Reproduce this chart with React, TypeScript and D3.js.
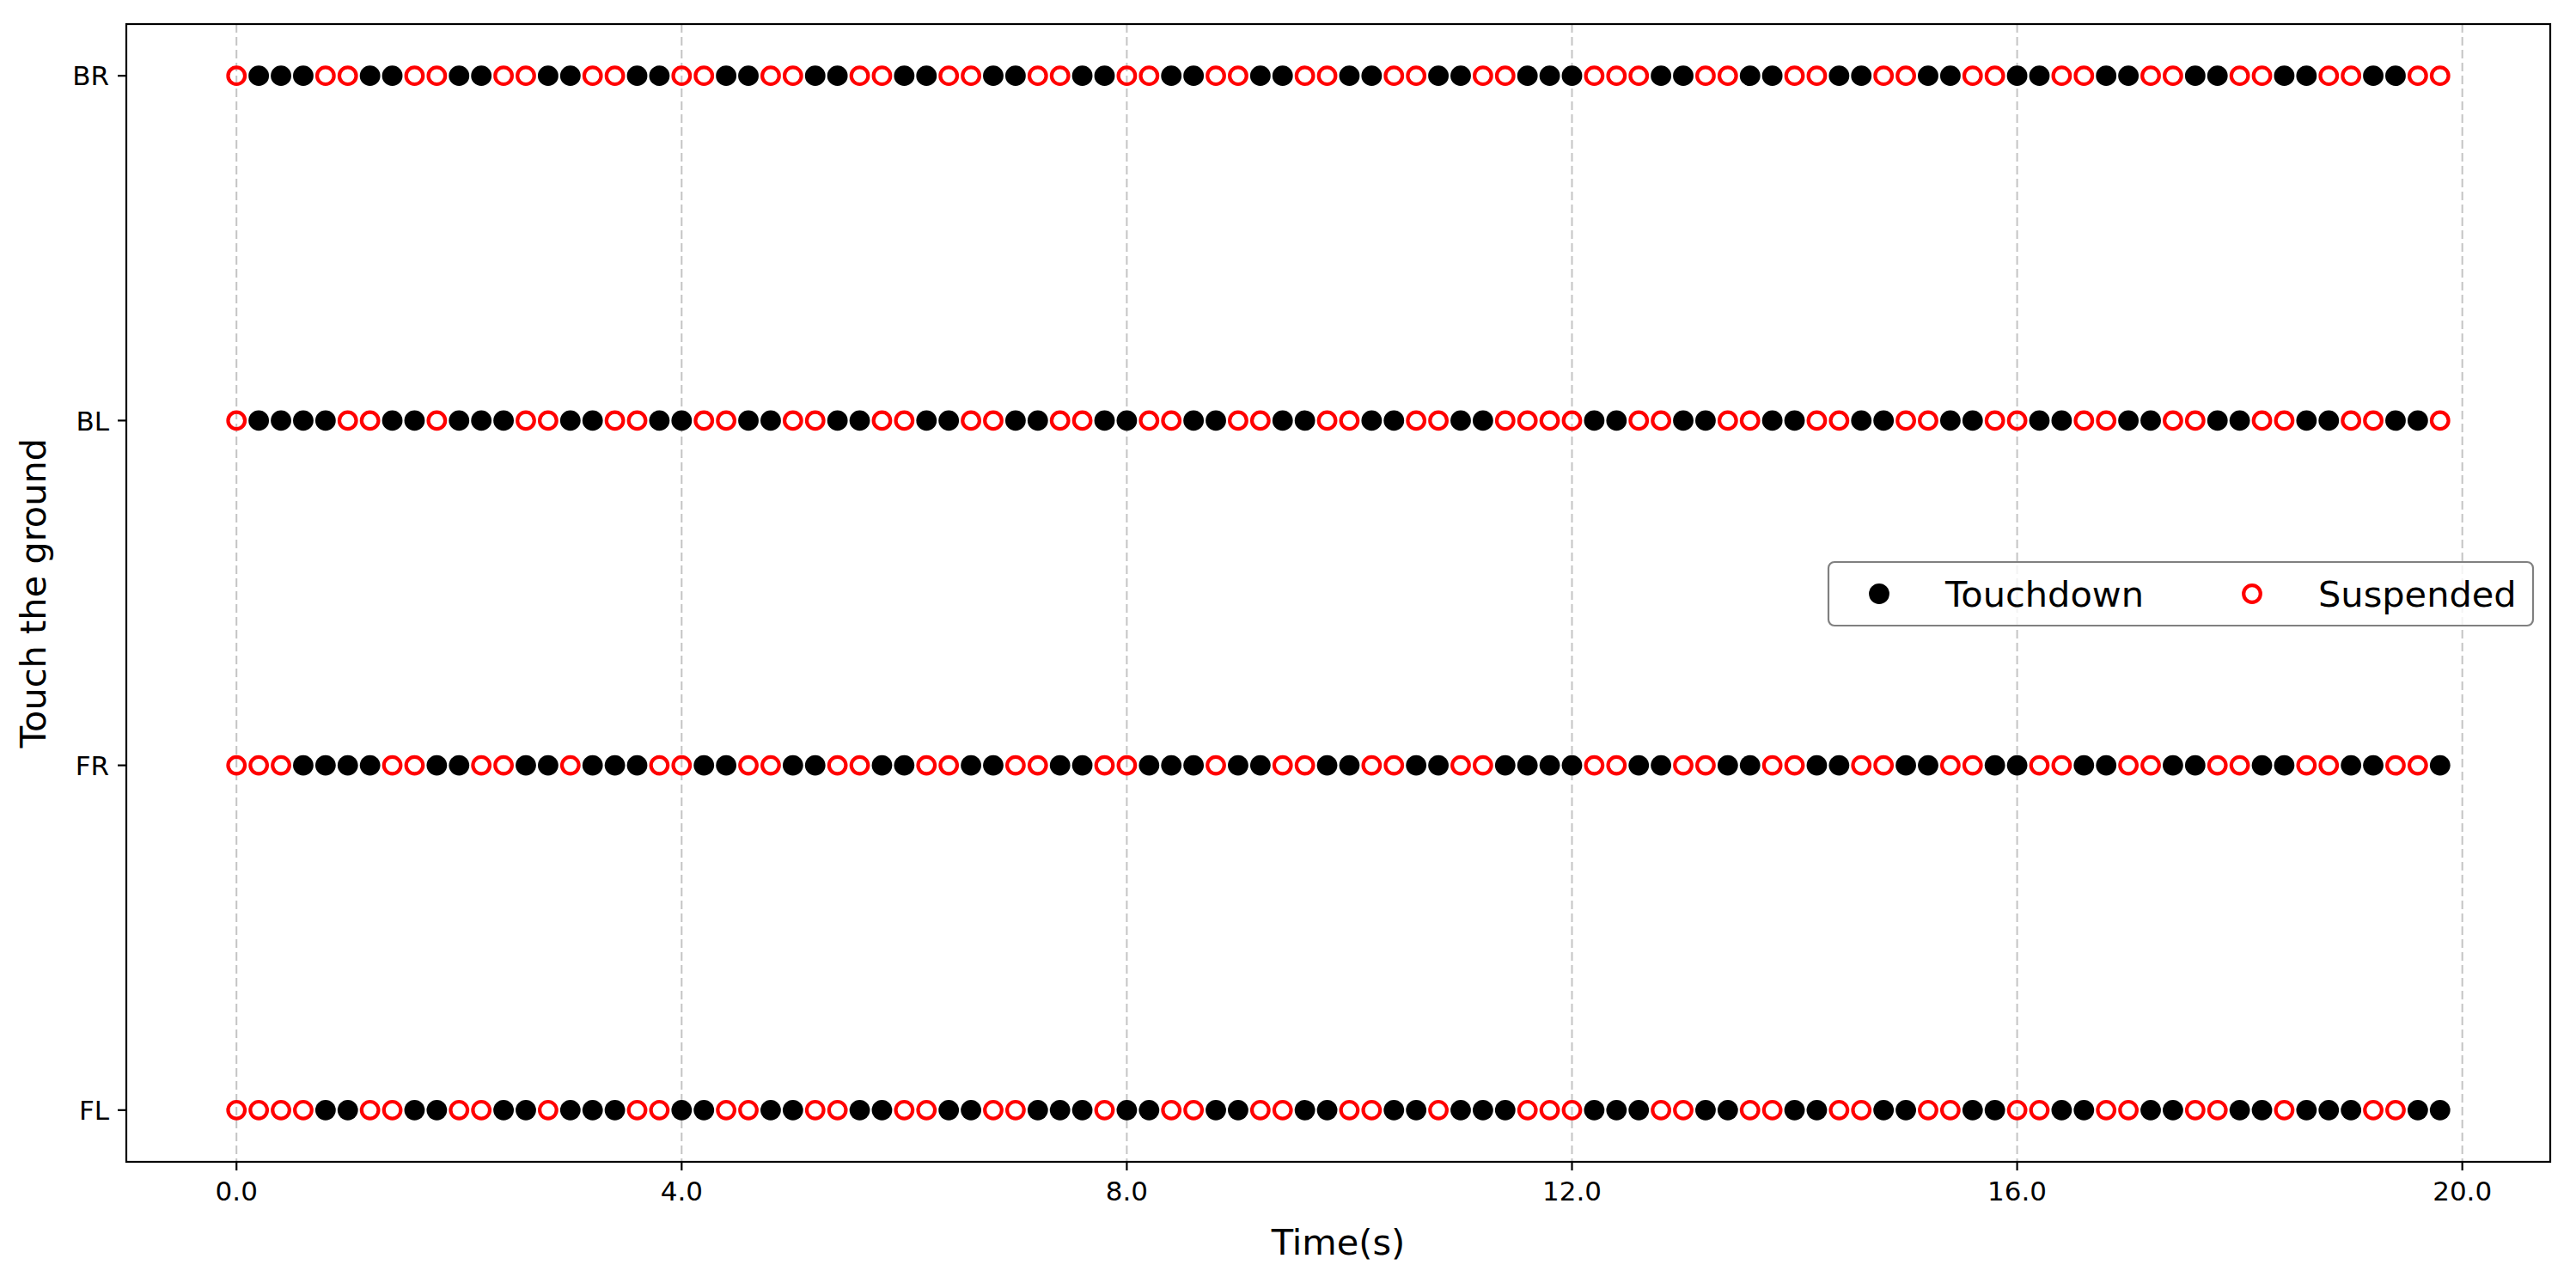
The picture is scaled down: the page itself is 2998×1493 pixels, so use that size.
import React, { useEffect } from "react";
import * as d3 from "d3";

// 1 = Touchdown (black filled), 0 = Suspended (red hollow); sampled every 0.2 s from 0 to 19.8 s
const legs = ["FL", "FR", "BL", "BR"];
const FL = [0,0,0,0,1,1,0,0,1,1, 0,0,1,1,0,1,1,1,0,0, 1,1,0,0,1,1,0,0,1,1, 0,0,1,1,0,0,1,1,1,0, 1,1,0,0,1,1,0,0,1,1, 0,0,1,1,0,1,1,1,0,0, 0,1,1,1,0,0,1,1,0,0, 1,1,0,0,1,1,0,0,1,1, 0,0,1,1,0,0,1,1,0,0, 1,1,0,1,1,1,0,0,1,1];
const FR = [0,0,0,1,1,1,1,0,0,1, 1,0,0,1,1,0,1,1,1,0, 0,1,1,0,0,1,1,0,0,1, 1,0,0,1,1,0,0,1,1,0, 0,1,1,1,0,1,1,0,0,1, 1,0,0,1,1,0,0,1,1,1, 1,0,0,1,1,0,0,1,1,0, 0,1,1,0,0,1,1,0,0,1, 1,0,0,1,1,0,0,1,1,0, 0,1,1,0,0,1,1,0,0,1];
const BL = [0,1,1,1,1,0,0,1,1,0, 1,1,1,0,0,1,1,0,0,1, 1,0,0,1,1,0,0,1,1,0, 0,1,1,0,0,1,1,0,0,1, 1,0,0,1,1,0,0,1,1,0, 0,1,1,0,0,1,1,0,0,0, 0,1,1,0,0,1,1,0,0,1, 1,0,0,1,1,0,0,1,1,0, 0,1,1,0,0,1,1,0,0,1, 1,0,0,1,1,0,0,1,1,0];
const BR = [0,1,1,1,0,0,1,1,0,0, 1,1,0,0,1,1,0,0,1,1, 0,0,1,1,0,0,1,1,0,0, 1,1,0,0,1,1,0,0,1,1, 0,0,1,1,0,0,1,1,0,0, 1,1,0,0,1,1,0,0,1,1, 1,0,0,0,1,1,0,0,1,1, 0,0,1,1,0,0,1,1,0,0, 1,1,0,0,1,1,0,0,1,1, 0,0,1,1,0,0,1,1,0,0];
const states = [FL, FR, BL, BR];
const timeStep = 0.2;
const xTicks = [0, 4, 8, 12, 16, 20];
const legendLabels = ["Touchdown", "Suspended"];

const W = 2998, H = 1493;
const L = 147, R = 2968, T = 28, B = 1352;
const FONT = "'DejaVu Sans', sans-serif";

export default function App() {
  useEffect(() => {
    document.body.style.margin = "0";
  }, []);
  const x = d3.scaleLinear().domain([-0.99, 20.79]).range([L, R]);
  const y = d3.scaleLinear().domain([-0.15, 3.15]).range([B, T]);

  const pts: { t: number; leg: number; s: number }[] = [];
  states.forEach((arr, li) => arr.forEach((s, i) => pts.push({ t: +(i * timeStep).toFixed(1), leg: li, s })));
  const td = pts.filter((p) => p.s === 1);
  const su = pts.filter((p) => p.s === 0);

  const rRing = 9.8, ringW = 4.2, rFill = 11.9;

  return (
    <svg width={W} height={H} style={{ position: "absolute", left: 0, top: 0, display: "block", background: "#fff" }} fontFamily={FONT}>
      <rect x={0} y={0} width={W} height={H} fill="#fff" />
      {/* grid */}
      {xTicks.map((t) => (
        <line key={"g" + t} x1={x(t)} x2={x(t)} y1={T} y2={B} stroke="#c4c4c4" strokeWidth={2} strokeDasharray="10,5" />
      ))}
      {/* points */}
      {td.map((p, i) => (
        <circle key={"td" + i} cx={x(p.t)} cy={y(p.leg)} r={rFill} fill="#000" />
      ))}
      {su.map((p, i) => (
        <circle key={"su" + i} cx={x(p.t)} cy={y(p.leg)} r={rRing} fill="none" stroke="#ff0000" strokeWidth={ringW} />
      ))}
      {/* spines */}
      <rect x={L} y={T} width={R - L} height={B - T} fill="none" stroke="#000" strokeWidth={2.2} />
      {/* x ticks */}
      {xTicks.map((t) => (
        <g key={"xt" + t}>
          <line x1={x(t)} x2={x(t)} y1={B} y2={B + 10} stroke="#000" strokeWidth={2.2} />
          <text x={x(t)} y={B + 21} dy="0.76em" textAnchor="middle" fontSize={31}>
            {t.toFixed(1)}
          </text>
        </g>
      ))}
      {/* y ticks */}
      {legs.map((lg, i) => (
        <g key={"yt" + lg}>
          <line x1={L - 10} x2={L} y1={y(i)} y2={y(i)} stroke="#000" strokeWidth={2.2} />
          <text x={L - 20} y={y(i)} dy="0.36em" textAnchor="end" fontSize={31}>
            {lg}
          </text>
        </g>
      ))}
      {/* axis labels */}
      <text x={(L + R) / 2} y={1445} dy="0.36em" textAnchor="middle" fontSize={41.5}>
        Time(s)
      </text>
      <text transform={`translate(38,${(T + B) / 2}) rotate(-90)`} dy="0.36em" textAnchor="middle" fontSize={41.5}>
        Touch the ground
      </text>
      {/* legend */}
      <g>
        <rect x={2128} y={654} width={820} height={74} rx={7} fill="#fff" fillOpacity={0.8} stroke="#808080" strokeWidth={2.2} />
        <circle cx={2187} cy={691} r={rFill} fill="#000" />
        <text x={2264} y={691} dy="0.36em" fontSize={41.5}>
          {legendLabels[0]}
        </text>
        <circle cx={2621} cy={691} r={rRing} fill="none" stroke="#ff0000" strokeWidth={ringW} />
        <text x={2698} y={691} dy="0.36em" fontSize={41.5}>
          {legendLabels[1]}
        </text>
      </g>
    </svg>
  );
}
